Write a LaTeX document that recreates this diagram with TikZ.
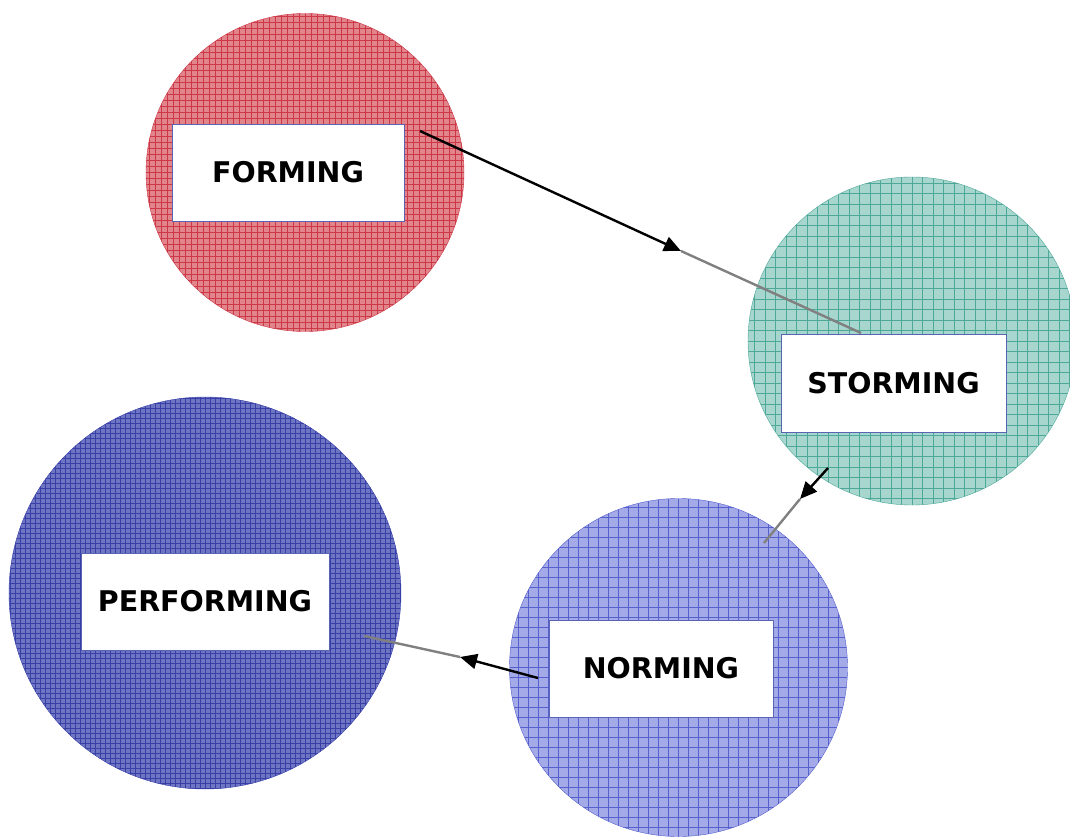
\documentclass[tikz,border=0pt]{standalone}
\usepackage{fontspec}
\setmainfont{DejaVu Sans}
\usetikzlibrary{arrows.meta}
\definecolor{fbase}{RGB}{226,132,140}
\definecolor{fline}{RGB}{204,56,70}
\definecolor{sbase}{RGB}{166,214,206}
\definecolor{sline}{RGB}{78,168,152}
\definecolor{nbase}{RGB}{164,170,232}
\definecolor{nline}{RGB}{85,96,204}
\definecolor{pbase}{RGB}{110,118,196}
\definecolor{pline}{RGB}{56,64,168}
\definecolor{boxline}{RGB}{90,100,180}
\definecolor{grayline}{RGB}{128,128,128}
\tikzset{
  stage/.style={circle, inner sep=0pt, draw=#1},
  gridfill/.style n args={3}{path picture={
     \draw[#1, line width=#3] (path picture bounding box.south west) grid[step=#2] (path picture bounding box.north east);}},
  label box/.style={draw=boxline, line width=0.9pt, fill=white, inner sep=0pt,
     font=\bfseries\fontsize{28.5}{31}\selectfont},
  blackarrow/.style={line width=2.4pt, black, -{Triangle[length=17pt,width=15pt]}},
  grayseg/.style={line width=2.4pt, grayline}
}
\begin{document}
\begin{tikzpicture}[x=1pt,y=-1pt]
\useasboundingbox (0,0) rectangle (1070,837);
% circles
\node[stage=fline, fill=fbase, minimum size=318pt, gridfill={fline}{6pt}{0.9pt}] (cf) at (305,172.5) {};
\node[stage=sline, fill=sbase, minimum size=328pt, gridfill={sline}{10.5pt}{1pt}] (cs) at (912,341) {};
\node[stage=nline, fill=nbase, minimum size=338pt, gridfill={nline}{10pt}{1.2pt}] (cn) at (678.5,667.5) {};
\node[stage=pline, fill=pbase, minimum size=392pt, gridfill={pline}{5pt}{0.9pt}] (cp) at (205,593) {};
% connector points
\coordinate (a1s) at (420,131);
\coordinate (a1t) at (681,251);
\coordinate (a1e) at (861,333);
\coordinate (a2s) at (828,468);
\coordinate (a2t) at (800,499);
\coordinate (a2e) at (764,543);
\coordinate (a3s) at (538,678);
\coordinate (a3t) at (460,657);
\coordinate (a3e) at (364,636);
% gray segments (behind boxes)
\draw[grayseg] (a1t) -- (a1e);
\draw[grayseg] (a2t) -- (a2e);
\draw[grayseg] (a3t) -- (a3e);
% boxes
\node[label box, minimum width=232pt, minimum height=97pt] (bf) at (288,172.5) {FORMING};
\node[label box, minimum width=225pt, minimum height=98pt] (bs) at (893.5,383) {STORMING};
\node[label box, minimum width=224pt, minimum height=97pt] (bn) at (661,668.5) {NORMING};
\node[label box, minimum width=248pt, minimum height=97pt] (bp) at (205,601.5) {PERFORMING};
% black arrows
\draw[blackarrow] (a1s) -- (a1t);
\draw[blackarrow] (a2s) -- (a2t);
\draw[blackarrow] (a3s) -- (a3t);
\end{tikzpicture}
\end{document}
